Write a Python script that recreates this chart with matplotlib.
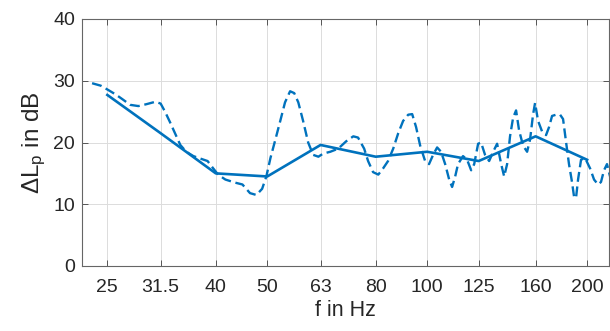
import matplotlib
matplotlib.use("Agg")
import matplotlib.pyplot as plt
from matplotlib.ticker import FixedLocator, NullLocator, FixedFormatter

plt.rcParams['font.family'] = ['Liberation Sans', 'DejaVu Sans']
plt.rcParams['mathtext.fontset'] = 'custom'
plt.rcParams['mathtext.rm'] = 'Liberation Sans'
plt.rcParams['mathtext.it'] = 'Liberation Sans'

# Third-octave band levels (solid line)
band_freq = [25, 31.5, 40, 50, 63, 80, 100, 125, 160, 200]
band_level = [27.7, 21.5, 15.0, 14.5, 19.6, 17.7, 18.5, 17.0, 21.0, 17.2]

# Fine-resolution curve (dashed line)
fine_freq = [23.4, 24.3, 25.1, 25.9, 26.7, 27.6, 28.6, 29.6, 30.8, 31.5,
             32.1, 32.8, 33.6, 34.3, 35.2, 36.3, 37.4, 38.6, 39.4, 40.4,
             41.7, 43.5, 44.9, 46.4, 47.7, 48.9, 49.8, 50.7, 51.8, 52.9,
             54.0, 55.2, 56.2, 57.2, 58.4, 59.7, 61.0, 62.4, 63.7, 65.7,
             68.0, 70.4, 72.6, 74.1, 76.1, 77.4, 79.1, 80.9, 82.6, 84.4,
             86.3, 88.2, 90.1, 92.1, 93.7, 95.3, 97.0, 99.1, 100.8, 102.6,
             104.4, 106.2, 108.1, 110.0, 111.4, 112.9, 114.3, 116.8, 118.9, 121.0,
             122.6, 124.7, 126.3, 128.5, 130.8, 133.1, 135.4, 137.8, 139.6, 141.4,
             143.2, 145.1, 147.0, 148.9, 151.5, 154.2, 156.2, 158.2, 159.6, 161.7,
             164.5, 167.4, 169.6, 171.8, 174.8, 177.9, 180.2, 182.6, 184.9, 187.4,
             189.0, 190.6, 192.3, 194.8, 198.2, 202.6, 206.1, 209.7, 212.4, 215.2,
             218.0, 220.9]
fine_level = [29.6, 29.2, 28.5, 27.8, 27.0, 26.1, 25.9, 26.2, 26.6, 26.3,
              25.0, 23.3, 21.3, 19.6, 18.5, 17.8, 17.4, 17.0, 16.0, 14.8,
              14.0, 13.5, 13.2, 11.8, 11.5, 12.5, 14.5, 17.5, 20.5, 23.5,
              26.5, 28.3, 28.0, 26.5, 23.5, 20.0, 18.0, 17.7, 18.2, 18.5,
              19.0, 20.2, 21.0, 20.8, 19.0, 17.0, 15.2, 14.8, 15.8, 17.0,
              19.0, 21.5, 23.5, 24.5, 24.6, 22.5, 19.5, 17.0, 16.5, 18.0,
              19.2, 18.5, 16.5, 14.0, 12.8, 14.5, 16.5, 17.8, 17.2, 15.5,
              16.5, 19.8, 20.0, 18.0, 17.0, 18.5, 19.8, 16.5, 14.5, 16.5,
              21.0, 24.0, 25.2, 22.0, 19.5, 18.5, 20.5, 24.5, 26.4, 23.5,
              21.8, 21.2, 22.5, 24.3, 24.5, 24.5, 23.8, 20.0, 16.5, 13.5,
              11.2, 11.0, 14.0, 17.2, 17.5, 15.8, 14.0, 13.2, 13.6, 15.5,
              16.5, 14.5]

tick_freq = [25, 31.5, 40, 50, 63, 80, 100, 125, 160, 200]
tick_labels = ['25', '31.5', '40', '50', '63', '80', '100', '125', '160', '200']
y_ticks = [0, 10, 20, 30, 40]

blue = '#0072BD'
axcol = '#262626'

fig = plt.figure(figsize=(6.10, 3.31), dpi=100)
ax = fig.add_axes([82/610, 1-266/331, (609-82)/610, (266-19)/331])

ax.plot(fine_freq, fine_level, color=blue, lw=1.7, linestyle=(0, (4.2, 2.0)))
ax.plot(band_freq, band_level, color=blue, lw=1.9)

ax.set_xscale('log')
ax.set_xlim(22.4, 219.9)
ax.set_ylim(0, 40)
ax.xaxis.set_major_locator(FixedLocator(tick_freq))
ax.xaxis.set_major_formatter(FixedFormatter(tick_labels))
ax.xaxis.set_minor_locator(NullLocator())
ax.set_yticks(y_ticks)

ax.grid(True, color='#dcdcdc', lw=0.7)
ax.set_axisbelow(True)
for s in ax.spines.values():
    s.set_color('#666666')
    s.set_linewidth(0.8)
ax.tick_params(which='both', direction='in', top=True, right=True, length=4,
               width=0.7, color='#555555', labelsize=14, labelcolor=axcol)
ax.tick_params(axis='x', pad=9)
ax.tick_params(axis='y', pad=5)

ax.set_xlabel('f in Hz', fontsize=15.5, color=axcol, labelpad=3)
ax.set_ylabel(r'ΔL$_\mathrm{p}$ in dB', fontsize=17.5, color=axcol, labelpad=4)

fig.savefig('out.png', dpi=100)
